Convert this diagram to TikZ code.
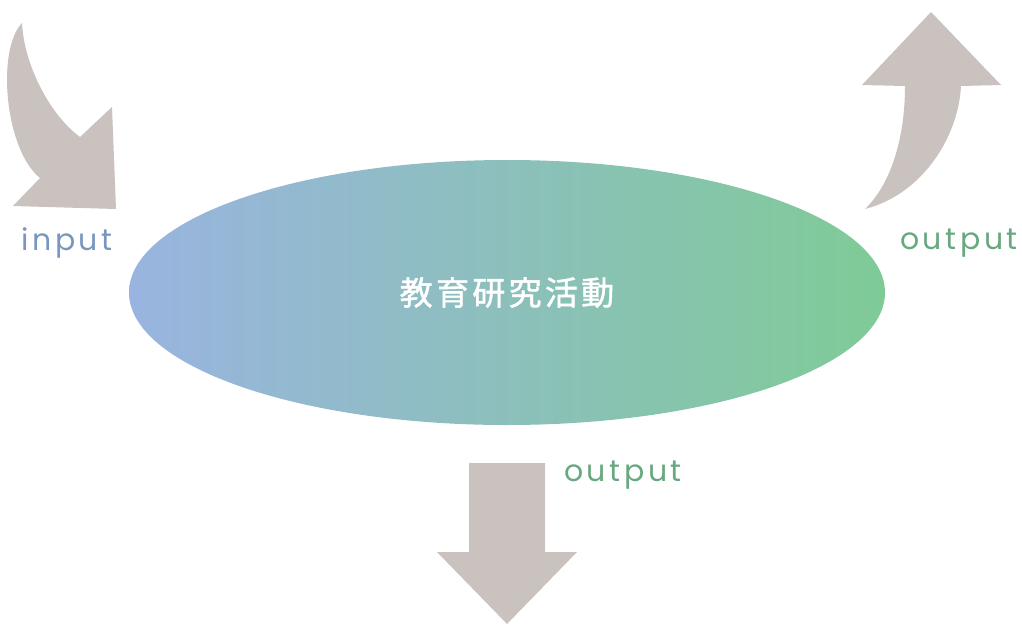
\documentclass[tikz,border=0pt]{standalone}
\usepackage{fontspec}
\setmainfont{Noto Sans CJK JP}
\newfontfamily\jpfont[LetterSpace=10,FakeBold=1.3]{Noto Sans CJK JP}
\newfontfamily\lblfont[LetterSpace=12]{Poppins}
\usetikzlibrary{shapes.geometric}
\definecolor{arrowgray}{HTML}{C9C2BE}
\definecolor{leftblue}{HTML}{99B4E0}
\definecolor{rightgreen}{HTML}{7FCB97}
\definecolor{inblue}{HTML}{7A96BE}
\definecolor{outgreen}{HTML}{68A880}
\tikzset{
  bigarrow/.style={fill=arrowgray, draw=none},
  inlbl/.style={text=inblue, font=\lblfont\fontsize{30}{34}\selectfont, inner sep=0},
  outlbl/.style={text=outgreen, font=\lblfont\fontsize{30}{34}\selectfont, inner sep=0},
}
\begin{document}
\begin{tikzpicture}[x=1pt,y=-1pt]
\useasboundingbox (0,0) rectangle (1022,624);
% central ellipse
\node[ellipse, minimum width=756pt, minimum height=265pt, inner sep=0,
      left color=leftblue, right color=rightgreen, draw=none,
      text=white, font=\jpfont\fontsize{33}{36}\selectfont] (core) at (507,292.5) {教育研究活動};
% input arrow
\path[bigarrow] (22,23) .. controls (24,65) and (50,115) .. (80,137)
  -- (112,107) -- (116,209) -- (13,206) -- (40,178)
  .. controls (5,150) and (-4,50) .. (22,23) -- cycle;
% top right output arrow
\path[bigarrow] (931,12) -- (1001,85) -- (961,86)
  .. controls (958,140) and (920,195) .. (865,209)
  .. controls (890,185) and (905,140) .. (905,86)
  -- (862,85) -- cycle;
% bottom output arrow
\path[bigarrow] (469,463) -- (545,463) -- (545,552) -- (577,552) -- (507,624)
  -- (437,552) -- (469,552) -- cycle;
% labels
\node[inlbl] (in) at (67,243) {input};
\node[outlbl] (out1) at (959,243) {output};
\node[outlbl] (out2) at (623,475) {output};
\end{tikzpicture}
\end{document}
